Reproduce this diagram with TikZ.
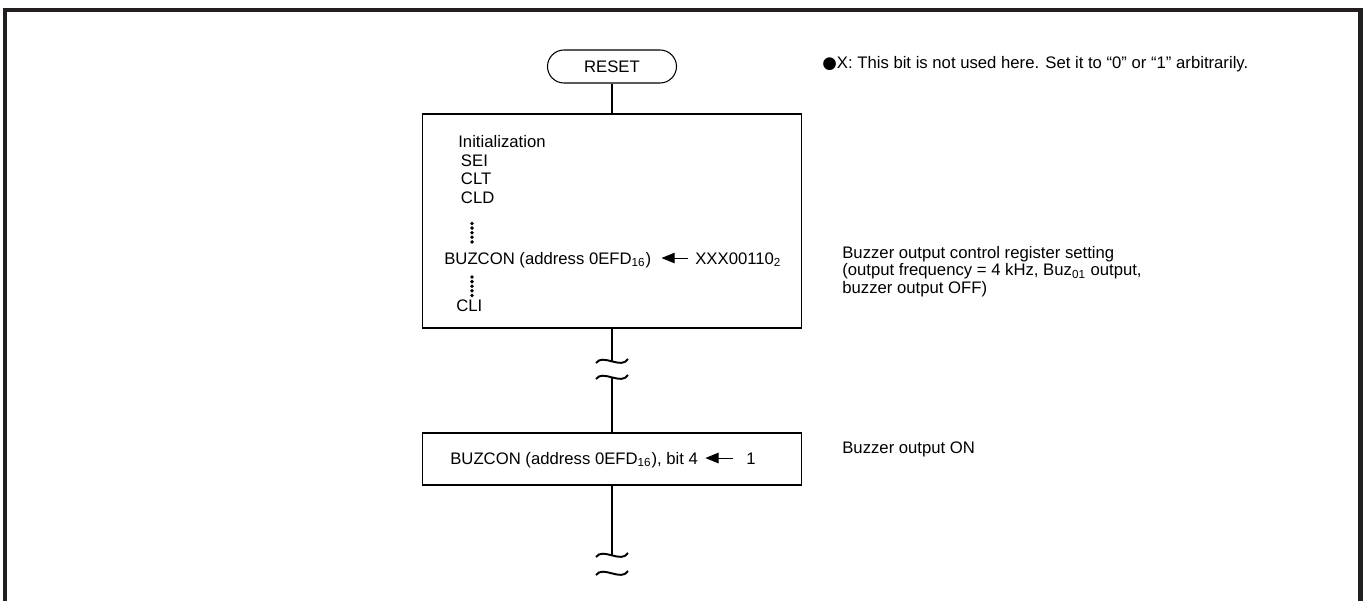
\documentclass[tikz,border=0pt]{standalone}
\usepackage{fontspec}
\setmainfont{Liberation Sans}
\newfontfamily\symfont{DejaVu Sans}
\usetikzlibrary{arrows.meta, positioning}
\definecolor{framegray}{RGB}{35,31,32}
\lineskiplimit=-20pt

\begin{document}
\begin{tikzpicture}[x=0.2mm, y=-0.2mm,
        every node/.style={font=\fontsize{9.5}{10.2}\selectfont},
        txt/.style={inner sep=0pt, align=left, anchor=base west},
        listtxt/.style={txt, font=\fontsize{9.5}{10.6}\selectfont},
        notetxt/.style={txt, font=\fontsize{9.5}{10}\selectfont},
        lbl/.style={txt, text height=6.8pt, text depth=0pt},
        procbox/.style={rectangle, draw, line width=0.6pt, minimum width=75.8mm, inner sep=0pt},
        termbox/.style={rectangle, draw, rounded corners=3.3mm, line width=0.6pt, minimum width=25.8mm, minimum height=6.6mm},
        flow/.style={line width=0.6pt},
        setarrow/.style={-{Triangle[length=7.5pt, width=6pt]}, line width=0.6pt},
        brk/.pic={\draw[line width=1.1pt] (-16,2) .. controls (-9,-8) and (9,9) .. (16,-2);}
    ]
        \useasboundingbox (0,0) rectangle (1365,601);
        % outer frame, open at the bottom
        \draw[framegray, line width=2.8pt] (5,620) -- (5,10) -- (1360.5,10) -- (1360.5,620);

        % flowchart boxes
        \node[termbox] (reset) at (612,66.5) {RESET};
        \node[procbox, minimum height=42.8mm] (init) at (612,221) {};
        \node[procbox, minimum height=10.4mm] (buzon) at (612,459) {};

        % break marks
        \coordinate (brk1a) at (612,361);
        \coordinate (brk1b) at (612,377);
        \coordinate (brk2a) at (612,555);
        \coordinate (brk2b) at (612,573);
        \pic at (brk1a) {brk};
        \pic at (brk1b) {brk};
        \pic at (brk2a) {brk};
        \pic at (brk2b) {brk};

        \draw[flow] (reset) -- (init);
        \draw[flow] (init) -- (brk1a);
        \draw[flow] (brk1b) -- (buzon);
        \draw[flow] (buzon) -- (brk2a);

        % initialization routine (base = last line)
        \node[listtxt] (initlist) at (458,203.5) {Initialization\\\hspace{1.5pt}SEI\\\hspace{1.5pt}CLT\\\hspace{1.5pt}CLD};
        \foreach \d in {0,...,4}
            \fill (472,223.5+\d*4.6) circle[radius=0.38mm];
        \node[lbl] (buzset) at (444,264) {BUZCON (address 0EFD\textsubscript{16})};
        \node[lbl] (bitval) at (695,264) {XXX00110\textsubscript{2}};
        \draw[setarrow, shorten <=1.4mm, shorten >=2mm] (bitval.west) -- (buzset.east);
        \foreach \d in {0,...,4}
            \fill (472,277+\d*4.6) circle[radius=0.38mm];
        \node[txt] (cli) at (456,311) {CLI};

        % buzzer on
        \node[lbl] (buzbit) at (450,464) {BUZCON (address 0EFD\textsubscript{16}), bit 4};
        \node[lbl] (oneval) at (746,464) {1};
        \draw[setarrow, shorten <=2.6mm, shorten >=1.4mm] (oneval.west) -- (buzbit.east);

        % notes on the right
        \node[txt] (note) at (822,68) {{\symfont ●}X: This bit is not used here. Set it to “0” or “1” arbitrarily.};
        \node[notetxt] (setnote) at (842,293.5) {Buzzer output control register setting\\(output frequency = 4 kHz, Buz\textsubscript{01} output,\\buzzer output OFF)};
        \node[txt] (onnote) at (842,453) {Buzzer output ON};
    \end{tikzpicture}
\end{document}
